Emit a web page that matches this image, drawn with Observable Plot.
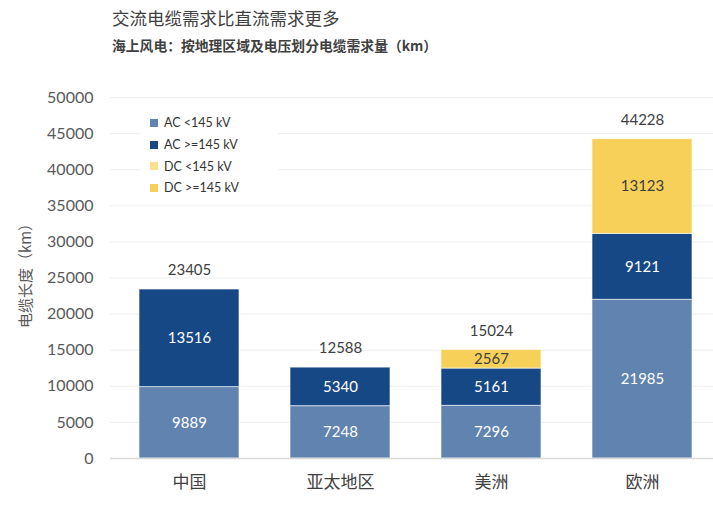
<!DOCTYPE html>
<html><head><meta charset="utf-8">
<script src="https://cdn.jsdelivr.net/npm/d3@7"></script>
<script src="https://cdn.jsdelivr.net/npm/@observablehq/plot@0.6"></script>
<style>
body{margin:0;background:#fff;font-family:"Noto Sans CJK SC","Noto Sans",sans-serif;}
#wrap{position:relative;width:713px;height:507px;}
#title{position:absolute;left:112px;top:5px;font-size:17.5px;color:#404040;}
#sub{position:absolute;left:112px;top:35px;font-size:13.8px;font-weight:bold;color:#404040;}
#chart{position:absolute;left:0;top:60px;}
#legend{position:absolute;left:140px;top:108px;width:128px;background:#fff;padding:4px 0 4px 10px;font-family:Lato,"Noto Sans",sans-serif;font-size:12.5px;color:#333;}
#legend div{height:21.7px;display:flex;align-items:center;}
#legend span.sw{display:inline-block;width:8px;height:8px;margin-right:6px;}
#ytitle{position:absolute;left:24px;top:272px;transform:translate(-50%,-50%) rotate(-90deg);transform-origin:center;font-size:15px;color:#595959;white-space:nowrap;}
</style></head>
<body>
<div id="wrap">
<div id="title">交流电缆需求比直流需求更多</div>
<div id="sub">海上风电：按地理区域及电压划分电缆需求量（km）</div>
<div id="chart"></div>
<div id="ytitle">电缆长度（km）</div>
<div id="legend"></div>
</div>
<script>
const categories = ["中国","亚太地区","美洲","欧洲"];
const seriesNames = ["AC <145 kV","AC >=145 kV","DC <145 kV","DC >=145 kV"];
const acLow  = [9889, 7248, 7296, 21985];
const acHigh = [13516, 5340, 5161, 9121];
const dcLow  = [0, 0, 0, 0];
const dcHigh = [0, 0, 2567, 13123];
const totals = [23405, 12588, 15024, 44228];
const yTicks = [0,5000,10000,15000,20000,25000,30000,35000,40000,45000,50000];
const colors = ["#6083b0","#174886","#fbe08c","#f7d05a"];
const labelColors = ["#ffffff","#ffffff","#404040","#404040"];

const seriesVals = [acLow, acHigh, dcLow, dcHigh];
const rows = [];
categories.forEach((c,i)=>{
  seriesVals.forEach((arr,s)=>{
    rows.push({cat:c, series:seriesNames[s], value:arr[i], si:s});
  });
});
const totalRows = categories.map((c,i)=>({cat:c,total:totals[i]}));
const numFont = 'Lato,"Noto Sans",sans-serif';

const chart = Plot.plot({
  width:713, height:447,
  marginLeft:110, marginRight:0, marginTop:37, marginBottom:49,
  style:{fontFamily:numFont, fontSize:"14px", color:"#595959", background:"#fff"},
  x:{domain:categories, range:[110,721], paddingInner:0.336, paddingOuter:0.178, label:null},
  y:{domain:[0,50000], label:null},
  color:{domain:seriesNames, range:colors},
  marks:[
    Plot.gridY(yTicks, {stroke:"#eeeeee", strokeOpacity:1}),
    Plot.barY(rows, Plot.stackY({x:"cat", y:"value", z:"series", order:seriesNames, fill:"series", stroke:"#ffffff", strokeWidth:1, strokeOpacity:0.6})),
    Plot.text(rows.filter(d=>d.value>0), Plot.stackY({x:"cat", y:"value", z:"series", order:seriesNames, text:d=>String(d.value), fill:d=>labelColors[d.si], fontSize:15, fontFamily:numFont})),
    Plot.text(totalRows, {x:"cat", y:"total", text:d=>String(d.total), dy:-19, fill:"#404040", fontSize:15, fontFamily:numFont}),
    Plot.ruleY([0], {stroke:"#d9d9d9", strokeWidth:1.5}),
    Plot.axisX({tickSize:0, tickPadding:17, fontSize:17, fill:"#404040", fontFamily:'"Noto Sans CJK SC",sans-serif', label:null}),
    Plot.axisY(yTicks, {tickSize:0, tickPadding:17, fontSize:16, fill:"#595959", label:null, tickFormat:d=>String(d)})
  ]
});
document.getElementById("chart").appendChild(chart);

const lg = document.getElementById("legend");
seriesNames.forEach((n,i)=>{
  const d = document.createElement("div");
  d.innerHTML = `<span class="sw" style="background:${colors[i]}"></span>${n.replace(/</g,"&lt;").replace(/>/g,"&gt;")}`;
  lg.appendChild(d);
});
</script>
</body></html>
